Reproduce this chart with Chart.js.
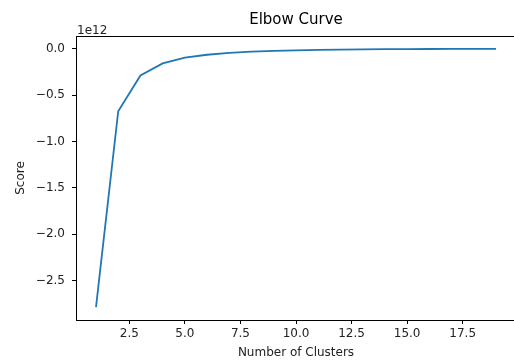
<!DOCTYPE html>
<html lang="en">
<head>
    <meta charset="UTF-8">
    <title>Elbow Curve</title>
    <script src="https://cdn.jsdelivr.net/npm/chart.js"></script>
    <style>
        html, body { margin: 0; padding: 0; background: #fff; overflow: hidden; }
        #wrap { position: absolute; left: 0; top: 0; width: 530px; height: 362px; }
    </style>
</head>
<body>
    <div id="wrap"><canvas id="elbowChart" width="530" height="362"></canvas></div>
    <script>
        // number of clusters tried
        const clusters = [1, 2, 3, 4, 5, 6, 7, 8, 9, 10, 11, 12, 13, 14, 15, 16, 17, 18, 19];
        // kmeans score, in units of 1e12
        const scores = [-2.786, -0.675, -0.29, -0.16, -0.098, -0.066, -0.046, -0.033, -0.024, -0.018,
                        -0.013, -0.010, -0.008, -0.006, -0.005, -0.004, -0.003, -0.0025, -0.002];
        const xTicks = [2.5, 5.0, 7.5, 10.0, 12.5, 15.0, 17.5];
        const yTicks = [-2.5, -2.0, -1.5, -1.0, -0.5, 0.0];
        const SCALE = 1e12;

        const font = 'DejaVu Sans';

        // top/right spines + offset label "1e12"
        const frame = {
            id: 'frame',
            afterDraw(chart) {
                const ctx = chart.ctx;
                const a = chart.chartArea;
                ctx.save();
                ctx.strokeStyle = '#000';
                ctx.lineWidth = 1;
                ctx.beginPath();
                ctx.moveTo(a.left, a.top + 0.5);
                ctx.lineTo(a.right, a.top + 0.5);
                ctx.moveTo(a.right - 0.5, a.top);
                ctx.lineTo(a.right - 0.5, a.bottom);
                ctx.stroke();
                ctx.fillStyle = '#222';
                ctx.font = '12px "' + font + '"';
                ctx.textAlign = 'left';
                ctx.textBaseline = 'alphabetic';
                ctx.fillText('1e12', a.left + 1, a.top - 2);
                ctx.restore();
            }
        };

        const points = clusters.map((c, i) => ({ x: c, y: scores[i] * SCALE }));

        new Chart(document.getElementById('elbowChart'), {
            type: 'line',
            data: {
                datasets: [{
                    data: points,
                    borderColor: '#1f77b4',
                    borderWidth: 1.8,
                    pointRadius: 0,
                    tension: 0,
                    fill: false
                }]
            },
            options: {
                responsive: false,
                animation: false,
                layout: { padding: { left: 0, top: 0, right: 14, bottom: 0 } },
                plugins: {
                    legend: { display: false },
                    tooltip: { enabled: false },
                    title: {
                        display: true,
                        text: 'Elbow Curve',
                        fullSize: false,
                        color: '#000',
                        font: { family: font, size: 15, weight: 'normal' },
                        padding: { top: 11, bottom: 7 }
                    }
                },
                scales: {
                    x: {
                        type: 'linear',
                        min: 0.1,
                        max: 19.9,
                        afterBuildTicks: s => { s.ticks = xTicks.map(v => ({ value: v })); },
                        afterFit: s => { s.height = 42; },
                        grid: { display: true, drawOnChartArea: false, drawTicks: true, tickLength: 4, tickColor: '#000' },
                        border: { display: true, color: '#000', width: 1 },
                        ticks: {
                            color: '#222',
                            font: { family: font, size: 12 },
                            padding: 3,
                            maxRotation: 0,
                            callback: v => v.toFixed(1)
                        },
                        title: {
                            display: true,
                            text: 'Number of Clusters',
                            color: '#222',
                            font: { family: font, size: 12 },
                            padding: { top: 0, bottom: 2 }
                        }
                    },
                    y: {
                        type: 'linear',
                        min: -2.925 * SCALE,
                        max: 0.136 * SCALE,
                        afterBuildTicks: s => { s.ticks = yTicks.map(v => ({ value: v * SCALE })); },
                        afterFit: s => { s.width = 76; },
                        grid: { display: true, drawOnChartArea: false, drawTicks: true, tickLength: 4, tickColor: '#000' },
                        border: { display: true, color: '#000', width: 1 },
                        ticks: {
                            color: '#222',
                            font: { family: font, size: 12 },
                            padding: 7,
                            callback: v => (v / SCALE).toFixed(1).replace('-', '\u2212')
                        },
                        title: {
                            display: true,
                            text: 'Score',
                            color: '#222',
                            font: { family: font, size: 12 },
                            padding: { top: 14, bottom: 0 }
                        }
                    }
                }
            },
            plugins: [frame]
        });
    </script>
</body>
</html>
